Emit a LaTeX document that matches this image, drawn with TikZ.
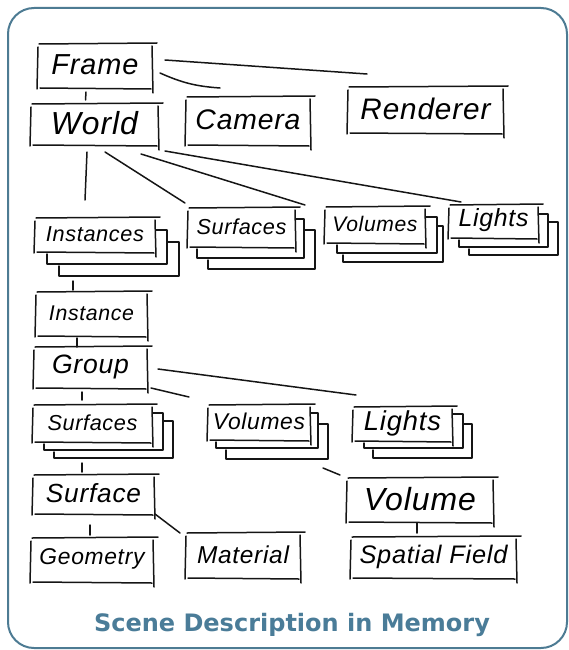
\documentclass[tikz,border=0pt]{standalone}
\usepackage{fontspec}
\usepackage{graphicx}
\newfontfamily\handfont[LetterSpace=3]{Liberation Sans}
\newfontfamily\titlefont{DejaVu Sans}
\definecolor{framec}{HTML}{4D7B93}
\definecolor{titlec}{HTML}{4A7C98}
\definecolor{ink}{HTML}{151515}
\newcommand\hw[2]{\resizebox{#1pt}{!}{\handfont\itshape #2}}
\tikzset{
  hand/.style={draw=ink, line width=1.5pt, line cap=round, line join=round},
  boxn/.style={inner sep=0pt, outer sep=0pt, rectangle},
  txt/.style={inner sep=0pt, outer sep=0pt},
}
% name, x1, y1, x2, y2, text width, text
\newcommand\skbox[7]{%
  \node[boxn, minimum width={#4-#2}, minimum height={#5-#3}] (#1) at ({(#2+#4)/2},{(#3+#5)/2}) {};
  \node[txt] (#1-t) at ([yshift=1]#1.center) {\hw{#6}{#7}};
  \draw[hand] ([shift={(1,0)}]#1.north west) -- ([shift={(5,-1)}]#1.north east);
  \draw[hand] ([shift={(0,3)}]#1.north west) -- ([shift={(-1,1)}]#1.south west);
  \draw[hand] ([shift={(2,0)}]#1.south west) -- ([shift={(-1,1)}]#1.south east);
  \draw[hand] ([shift={(0,2)}]#1.north east) -- ([shift={(1,5)}]#1.south east);
}
% name, dx, dy, previous dx, previous dy
\newcommand\sklayer[5]{%
  \draw[hand] ([shift={({#4+1},{#3})}]#1.north east) -- ([shift={(#2,#3)}]#1.north east)
    -- ([shift={(#2,#3)}]#1.south east) -- ([shift={(#2,#3)}]#1.south west)
    -- ([shift={(#2,{#5+2})}]#1.south west);
}
\begin{document}
\begin{tikzpicture}[x=1pt,y=-1pt]
\useasboundingbox (0,0) rectangle (569,650);
\draw[framec, line width=2pt, rounded corners=26] (8,8) rectangle (567,648);

\skbox{frame}{38}{44}{152}{88}{87}{Frame}
\skbox{world}{31}{104}{158}{145}{87}{World}
\skbox{camera}{186}{97}{310}{145}{105}{Camera}
\skbox{renderer}{348}{87}{503}{133}{130}{Renderer}

\skbox{instances}{35}{218}{155}{252}{98}{Instances}
\sklayer{instances}{12}{12}{0}{0}
\sklayer{instances}{24}{24}{12}{12}
\skbox{surfacesA}{188}{208}{295}{247}{90}{Surfaces}
\sklayer{surfacesA}{9}{11}{0}{0}
\sklayer{surfacesA}{20}{22}{9}{11}
\skbox{volumesA}{325}{207}{425}{243}{85}{Volumes}
\sklayer{volumesA}{12}{10}{0}{0}
\sklayer{volumesA}{18}{19}{12}{10}
\skbox{lightsA}{449}{205}{538}{238}{70}{Lights}
\sklayer{lightsA}{10}{9}{0}{0}
\sklayer{lightsA}{20}{17}{10}{9}

\skbox{instance}{36}{292}{147}{336}{85}{Instance}
\skbox{group}{34}{347}{147}{388}{77}{Group}

\skbox{surfacesB}{33}{405}{152}{442}{90}{Surfaces}
\sklayer{surfacesB}{11}{8}{0}{0}
\sklayer{surfacesB}{21}{16}{11}{8}
\skbox{volumesB}{208}{405}{310}{440}{92}{Volumes}
\sklayer{volumesB}{8}{8}{0}{0}
\sklayer{volumesB}{18}{19}{8}{8}
\skbox{lightsB}{353}{407}{452}{441}{77}{Lights}
\sklayer{lightsB}{11}{7}{0}{0}
\sklayer{lightsB}{20}{17}{11}{7}

\skbox{surface}{33}{475}{154}{514}{95}{Surface}
\skbox{geometry}{31}{538}{153}{582}{105}{Geometry}
\skbox{material}{186}{533}{300}{578}{92}{Material}
\skbox{volume}{347}{478}{493}{522}{112}{Volume}
\skbox{spatial}{351}{537}{516}{578}{148}{Spatial Field}

% connectors
\draw[hand] ([shift={(13,16)}]frame.north east) -- ([shift={(19,-13)}]renderer.north west);
\draw[hand] ([shift={(8,29)}]frame.north east) to[bend right=10] ([shift={(34,-9)}]camera.north west);
\draw[hand] ([shift={(-9,4)}]frame.south) -- ([shift={(-9,-4)}]world.north);
\draw[hand] ([shift={(-7.5,7)}]world.south) -- ([shift={(-10,-18)}]instances.north);
\draw[hand] ([shift={(10.5,7)}]world.south) -- ([shift={(-3,-5)}]surfacesA.north west);
\draw[hand] ([shift={(-17,9)}]world.south east) -- ([shift={(-20,-2)}]volumesA.north west);
\draw[hand] ([shift={(7,6)}]world.south east) -- ([shift={(12,-3)}]lightsA.north west);
\draw[hand] ([shift={(-22,29)}]instances.south) -- ([shift={(-18.5,-2)}]instance.north);
\draw[hand] ([shift={(-14.5,2)}]instance.south) -- ([shift={(-13.5,0)}]group.north);
\draw[hand] ([shift={(-8.5,4)}]group.south) -- ([shift={(-10.5,-5)}]surfacesB.north);
\draw[hand] ([shift={(11,1.5)}]group.east) -- ([shift={(3,-12)}]lightsB.north west);
\draw[hand] ([shift={(4,0)}]group.south east) -- ([shift={(-19,-8)}]volumesB.north west);
\draw[hand] ([shift={(-10.5,21)}]surfacesB.south) -- ([shift={(-11.5,-3)}]surface.north);
\draw[hand] ([shift={(-3.5,11)}]surface.south) -- ([shift={(-2,-3)}]geometry.north);
\draw[hand] ([shift={(1,0)}]surface.south east) -- ([shift={(-6,0)}]material.north west);
\draw[hand] ([shift={(13,28)}]volumesB.south east) -- ([shift={(-7,-3)}]volume.north west);
\draw[hand] ([shift={(-3,1)}]volume.south) -- ([shift={(-16.5,-4)}]spatial.north);

\node[anchor=base, inner sep=0pt, text=titlec, font=\titlefont\bfseries\fontsize{24}{28}\selectfont] (title) at (292,631) {Scene Description in Memory};
\end{tikzpicture}
\end{document}
